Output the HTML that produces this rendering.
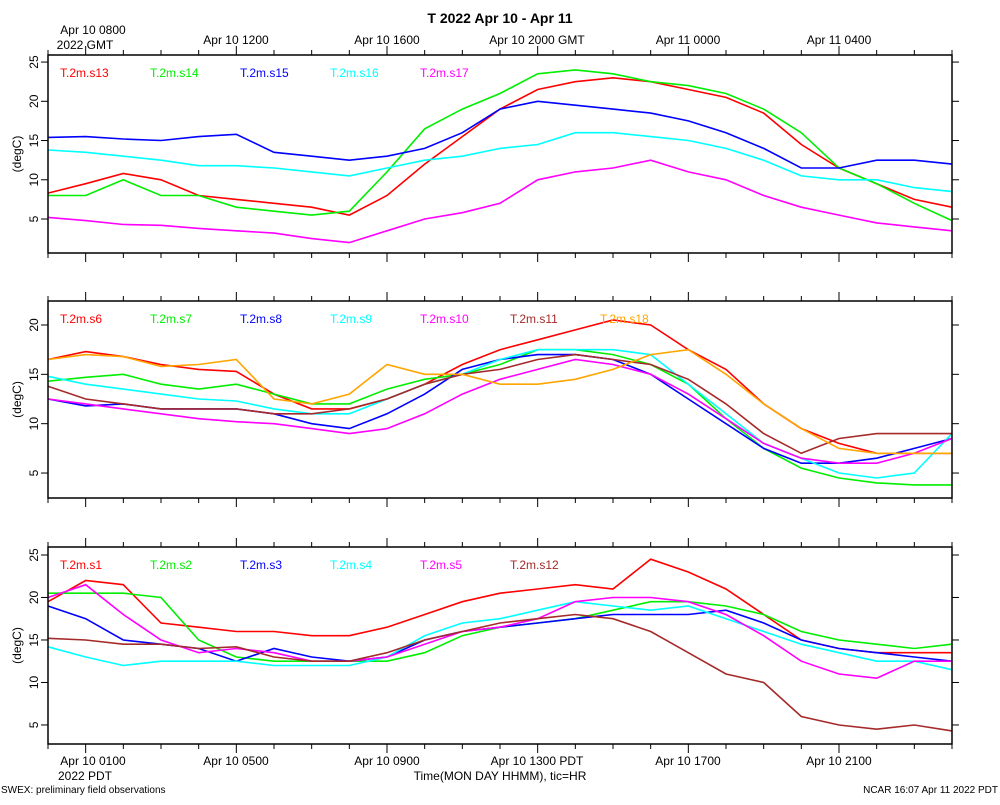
<!DOCTYPE html>
<html><head><meta charset="utf-8">
<style>
body{margin:0;background:#fff;font-family:"Liberation Sans",sans-serif;}
svg text{font-family:"Liberation Sans",sans-serif;}
</style></head>
<body>
<svg id="chart" width="1000" height="800" xmlns="http://www.w3.org/2000/svg">
<text x="500" y="23" text-anchor="middle" font-size="14" font-weight="bold">T 2022 Apr 10 - Apr 11</text>
<g font-size="12" text-anchor="middle">
<text x="93" y="34">Apr 10 0800</text><text x="85" y="49">2022 GMT</text>
<text x="236" y="44">Apr 10 1200</text><text x="387" y="44">Apr 10 1600</text>
<text x="537" y="44">Apr 10 2000 GMT</text><text x="688" y="44">Apr 11 0000</text><text x="839" y="44">Apr 11 0400</text>
</g>
<g font-size="12" text-anchor="middle">
<text x="93" y="765">Apr 10 0100</text><text x="85" y="780">2022 PDT</text>
<text x="236" y="765">Apr 10 0500</text><text x="387" y="765">Apr 10 0900</text>
<text x="537" y="765">Apr 10 1300 PDT</text><text x="688" y="765">Apr 10 1700</text><text x="839" y="765">Apr 10 2100</text>
</g>
<text x="500" y="780" text-anchor="middle" font-size="12">Time(MON DAY HHMM), tic=HR</text>
<text x="1" y="793" font-size="10">SWEX: preliminary field observations</text>
<text x="998" y="793" text-anchor="end" font-size="10">NCAR 16:07 Apr 11 2022 PDT</text>
</svg>
<script>
const hours = [0,1,2,3,4,5,6,7,8,9,10,11,12,13,14,15,16,17,18,19,20,21,22,23,24];
const p1Names = ["T.2m.s13","T.2m.s14","T.2m.s15","T.2m.s16","T.2m.s17"];
const s13 = [8.3,9.5,10.8,10,8,7.5,7,6.5,5.5,8,12,15.5,19,21.5,22.5,23,22.5,21.5,20.5,18.5,14.5,11.5,9.5,7.5,6.5];
const s14 = [8,8,10,8,8,6.5,6,5.5,6,11,16.5,19,21,23.5,24,23.5,22.5,22,21,19,16,11.5,9.5,7,4.8];
const s15 = [15.4,15.5,15.2,15,15.5,15.8,13.5,13,12.5,13,14,16,19,20,19.5,19,18.5,17.5,16,14,11.5,11.5,12.5,12.5,12];
const s16 = [13.8,13.5,13,12.5,11.8,11.8,11.5,11,10.5,11.5,12.5,13,14,14.5,16,16,15.5,15,14,12.5,10.5,10,10,9,8.5];
const s17 = [5.2,4.8,4.3,4.2,3.8,3.5,3.2,2.5,2,3.5,5,5.8,7,10,11,11.5,12.5,11,10,8,6.5,5.5,4.5,4,3.5];
const p2Names = ["T.2m.s6","T.2m.s7","T.2m.s8","T.2m.s9","T.2m.s10","T.2m.s11","T.2m.s18"];
const s6 = [16.5,17.3,16.8,16,15.5,15.3,13,11.5,11.5,12.5,14,16,17.5,18.5,19.5,20.5,20,17.5,15.5,12,9.5,8,7,7,7];
const s7 = [14.3,14.7,15,14,13.5,14,13,12,12,13.5,14.5,15,16,17.5,17.5,17,16,14,10.5,7.5,5.5,4.5,4,3.8,3.8];
const s8 = [12.5,11.8,12,11.5,11.5,11.5,11,10,9.5,11,13,15.5,16.5,17,17,16.5,15,12.5,10,7.5,6,6,6.5,7.5,8.5];
const s9 = [14.8,14,13.5,13,12.5,12.3,11.5,11,11,12.5,14,15,16.5,17.5,17.5,17.5,17,14,11,8,6.5,5,4.5,5,9];
const s10 = [12.5,12,11.5,11,10.5,10.2,10,9.5,9,9.5,11,13,14.5,15.5,16.5,16,15,13,10.5,8,6.5,6,6,7,8.5];
const s11 = [13.8,12.5,12,11.5,11.5,11.5,11,11,11.5,12.5,14,15,15.5,16.5,17,16.5,16,14.5,12,9,7,8.5,9,9,9];
const s18 = [16.5,17,16.8,15.8,16,16.5,12.5,12,13,16,15,15,14,14,14.5,15.5,17,17.5,15,12,9.5,7.5,7,7,7];
const p3Names = ["T.2m.s1","T.2m.s2","T.2m.s3","T.2m.s4","T.2m.s5","T.2m.s12"];
const s1 = [19.5,22,21.5,17,16.5,16,16,15.5,15.5,16.5,18,19.5,20.5,21,21.5,21,24.5,23,21,18,15,14,13.5,13.5,13.5];
const s2 = [20.5,20.5,20.5,20,15,13,12.5,12.5,12.5,12.5,13.5,15.5,16.5,17,17.5,18.5,19.5,19.5,19,18,16,15,14.5,14,14.5];
const s3 = [19,17.5,15,14.5,14,12.5,14,13,12.5,13,15,16,16.5,17,17.5,18,18,18,18.5,17,15,14,13.5,13,12.5];
const s4 = [14.2,13,12,12.5,12.5,12.5,12,12,12,13,15.5,17,17.5,18.5,19.5,19,18.5,19,17.5,16,14.5,13.5,12.5,12.5,11.5];
const s5 = [20,21.5,18,15,13.5,14,13.5,12.5,12.5,13,14.5,16,16.5,17.5,19.5,20,20,19.5,18,15.5,12.5,11,10.5,12.5,12.5];
const s12 = [15.2,15,14.5,14.5,14,14.2,13,12.5,12.5,13.5,15,16,17,17.5,18,17.5,16,13.5,11,10,6,5,4.5,5,4.3];
const yTicks1 = [5,10,15,20,25];
const yTicks2 = [5,10,15,20];
const yTicks3 = [5,10,15,20,25];

const NS="http://www.w3.org/2000/svg";
const svg=document.getElementById('chart');
const X0=48,X1=952;
const xs=h=>X0+(X1-X0)*h/24;
function mk(tag,attrs,parent){const e=document.createElementNS(NS,tag);for(const k in attrs)e.setAttribute(k,attrs[k]);(parent||svg).appendChild(e);return e;}
const panels=[
 {top:55,bot:253,ymin:0.67,ymax:25.9,ticks:yTicks1,names:p1Names,series:[s13,s14,s15,s16,s17],cols:["#ff0000","#00ee00","#0000ff","#00ffff","#ff00ff"],id:'top'},
 {top:301,bot:498,ymin:2.47,ymax:22.43,ticks:yTicks2,names:p2Names,series:[s6,s7,s8,s9,s10,s11,s18],cols:["#ff0000","#00ee00","#0000ff","#00ffff","#ff00ff","#a52a2a","#ffa500"],id:'middle'},
 {top:547,bot:744,ymin:2.76,ymax:25.94,ticks:yTicks3,names:p3Names,series:[s1,s2,s3,s4,s5,s12],cols:["#ff0000","#00ee00","#0000ff","#00ffff","#ff00ff","#a52a2a"],id:'bottom'}
];
panels.forEach(p=>{
 const g=mk('g',{});
 
 
 const ys=v=>p.bot-(v-p.ymin)/(p.ymax-p.ymin)*(p.bot-p.top);
 // series
 p.series.forEach((s,i)=>{
  const d=s.map((v,j)=>(j?'L':'M')+xs(hours[j]).toFixed(1)+','+ys(v).toFixed(1)).join('');
  const path=mk('path',{d:d,fill:'none',stroke:p.cols[i],'stroke-width':1.6},g);
  
  
 });
 // frame
 const r=mk('rect',{x:X0,y:p.top,width:X1-X0,height:p.bot-p.top,fill:'none',stroke:'#000','stroke-width':1.5},g);
 
 
 // x ticks
 for(let h=0;h<=24;h++){
  const x=xs(h),L=(h%4===1)?9:5;
  mk('line',{x1:x,x2:x,y1:p.bot,y2:p.bot+L,stroke:'#000','stroke-width':1},g);
  mk('line',{x1:x,x2:x,y1:p.top,y2:p.top-L,stroke:'#000','stroke-width':1},g);
 }
 // y ticks
 p.ticks.forEach(t=>{
  const y=ys(t);
  mk('line',{x1:X0-7,x2:X0,y1:y,y2:y,stroke:'#000'},g);
  mk('line',{x1:X1,x2:X1+7,y1:y,y2:y,stroke:'#000'},g);
  const tx=mk('text',{x:0,y:0,'font-size':12,'text-anchor':'middle',transform:`translate(38,${y}) rotate(-90)`},g);
  tx.textContent=t;
  
  
 });
 const yt=mk('text',{x:0,y:0,'font-size':12,'text-anchor':'middle',transform:`translate(21,${(p.top+p.bot)/2}) rotate(-90)`},g);
 yt.textContent='(degC)';
 
 
 // legend
 p.names.forEach((n,i)=>{
  const t=mk('text',{x:60+90*i,y:p.top+22,'font-size':12,fill:p.cols[i]},g);
  t.textContent=n;
  
  
 });
});
</script>
</body></html>
